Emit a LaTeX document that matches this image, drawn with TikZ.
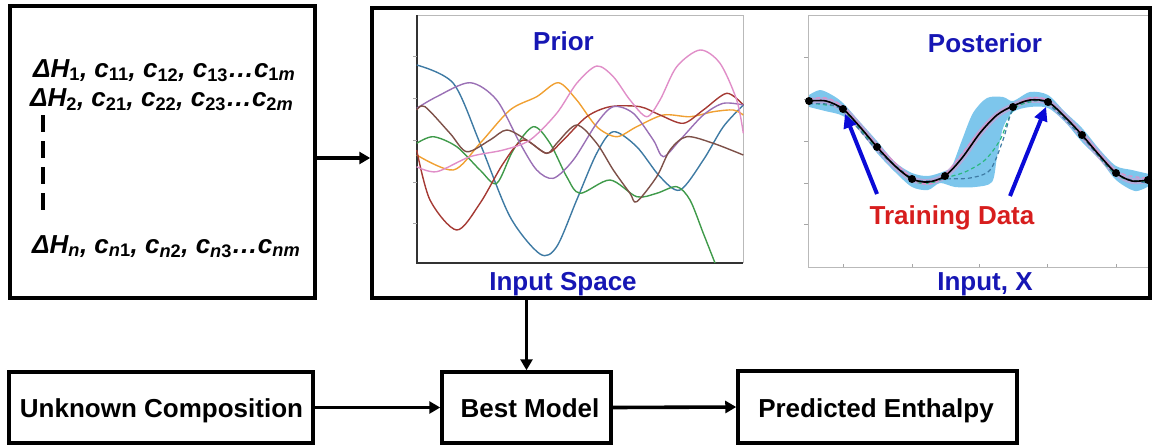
\documentclass[tikz,border=0pt]{standalone}
\usepackage{fontspec}
\setmainfont{Liberation Sans}
\usetikzlibrary{arrows.meta}
\definecolor{tblue}{RGB}{22,22,180}
\definecolor{tred}{RGB}{215,30,30}
\definecolor{abl}{RGB}{10,10,215}
\definecolor{bandblue}{RGB}{125,198,236}
\definecolor{cblue}{RGB}{62,122,163}
\definecolor{corange}{RGB}{240,160,50}
\definecolor{cgreen}{RGB}{63,154,74}
\definecolor{cred}{RGB}{165,58,52}
\definecolor{cpurple}{RGB}{154,112,181}
\definecolor{cbrown}{RGB}{125,80,72}
\definecolor{cpink}{RGB}{224,142,200}
\definecolor{lilac}{RGB}{200,160,212}
\newcommand{\lsub}[1]{\textsubscript{#1}}
\begin{document}
\begin{tikzpicture}[x=1pt,y=-1pt,
  box/.style={draw, line width=3.5pt, inner sep=0pt},
  lbl/.style={font=\fontsize{26}{30}\selectfont\bfseries, inner sep=0pt},
  eqn/.style={font=\fontsize{26}{30}\selectfont\bfseries\itshape, inner sep=0pt, anchor=base west},
  arr/.style={line width=3.6pt, -{Triangle[length=11pt,width=12pt]}},
  barr/.style={abl, line width=4pt, -{Triangle[length=14pt,width=13pt]}, shorten >=1pt},
  curve/.style={line width=1.4pt},
  dashc/.style={line width=1.2pt, dash pattern=on 4pt off 3pt},
  dot/.style={circle, fill=black, inner sep=0pt, minimum size=8pt}]
\useasboundingbox (0,0) rectangle (1153,445);

% ---------------- Prior plot ----------------
\draw[gray!55, line width=1pt] (417,15) -- (743,15) -- (743,263);
\draw[black!80, line width=1.2pt] (417,15) -- (417,263) -- (743,263);
\foreach \yy in {56,98,140,182,223} \draw[gray!70, line width=0.8pt] (413,\yy) -- (417,\yy);
\begin{scope}[curve]
\draw[cblue] plot[smooth] coordinates {(416.7,65) (453.3,83.3) (480,143.3) (510,216.7) (540,254) (556.7,246.7) (576.7,200) (596.7,153.3) (613.3,131.7) (636.7,146.7) (660,176.7) (680,190) (703.3,160) (723.3,126.7) (743.3,105)};
\draw[corange] plot[smooth] coordinates {(416.7,155) (453.3,170) (480,143.3) (510,110) (536.7,96.7) (558.3,82.7) (576.7,100) (596.7,126.7) (616.7,136.7) (636.7,126.7) (663.3,115) (690,116.7) (713.3,111.7) (733.3,110) (743.3,115)};
\draw[cgreen] plot[smooth] coordinates {(416.7,143.3) (433.3,136.7) (456.7,146.7) (480,170) (496.7,183.3) (513.3,150) (533.3,126.7) (550,143.3) (566.7,176.7) (580,193.3) (610,180) (636.7,196.7) (656.7,193.3) (676.7,186.7) (690,200) (703.3,233.3) (715,263)};
\draw[cred] plot[smooth] coordinates {(416.7,150) (430,200) (456.7,230) (480,203.3) (503.3,163.3) (523.3,140) (546.7,153.3) (563.3,140) (586.7,116.7) (610,106.7) (640,106.7) (660,115) (683.3,123.3) (703.3,110) (726.7,93.3) (743.3,105)};
\draw[cpurple] plot[smooth] coordinates {(416.7,108.3) (436.7,96.7) (470,82.7) (496.7,100) (520,143.3) (536.7,170) (553.3,178.3) (573.3,160) (596.7,123.3) (613.3,106.7) (633.3,113.3) (653.3,140) (663.3,156.7) (680,140) (703.3,115) (723.3,103.3) (743.3,105)};
\draw[cbrown] plot[smooth] coordinates {(416.7,110) (425,106.7) (450,133.3) (466.7,151.7) (490,140) (506.7,130) (526.7,140) (546.7,153.3) (556.7,143.3) (576.7,125) (596.7,143.3) (613.3,170) (630,193.3) (636.7,201.7) (656.7,176.7) (670,150) (686.7,136.7) (713.3,143.3) (743.3,155)};
\draw[cpink] plot[smooth] coordinates {(416.7,166.7) (436.7,171.7) (470,156.7) (503.3,150) (530,140) (556.7,113.3) (576.7,83.3) (596.7,66) (613.3,76.7) (630,100) (646.7,116.7) (660,100) (676.7,66.7) (700,50) (720,63.3) (736.7,100) (743.3,133.3)};
\end{scope}
\node[lbl, text=tblue, anchor=base] (prior) at (563.5,50) {Prior};
\node[lbl, text=tblue, anchor=base] (ispace) at (563,290) {Input Space};

% ---------------- Posterior plot ----------------
\draw[gray!55, line width=1pt] (808,15) rectangle (1149,267);
\foreach \yy in {57,99,141,183,224} \draw[gray!70, line width=0.8pt] (804,\yy) -- (808,\yy);
\foreach \xx in {843,912,979,1047,1116} \draw[gray!70, line width=0.8pt] (\xx,267) -- (\xx,264);
\fill[bandblue] plot[smooth] coordinates {(809,95) (820,90) (832,95) (843,103) (860,122) (877,141) (895,162) (912,173) (928,176) (945,171) (952,166) (962,140) (973,113) (987,98) (1003,97) (1013,101) (1030,92) (1048,95) (1065,112) (1082,128) (1100,150) (1116,166) (1132,170) (1149,174)}
  -- plot[smooth] coordinates {(1149,186) (1135,191) (1116,180) (1100,160) (1082,142) (1065,122) (1048,108) (1030,107) (1013,112) (1003,128) (997,157) (992,182) (975,187) (955,187) (940,183) (928,190) (912,187) (895,172) (877,153) (860,131) (843,116) (825,111) (809,107)} -- cycle;
\draw[lilac, line width=6pt, opacity=0.7] plot[smooth] coordinates {(809,101) (826,101) (843,109) (860,127) (877,147) (895,166) (912,179) (928,182) (945,176) (962,158) (980,133) (997,115) (1013,106) (1030,100) (1048,102) (1065,117) (1082,135) (1100,156) (1116,173) (1132,181) (1148,180)};
\draw[dashc, cgreen!70!cyan] plot[smooth] coordinates {(809,103) (826,105) (843,110) (877,148) (912,180) (930,183) (945,178) (965,172) (985,160) (1000,140) (1013,110) (1030,102) (1048,103) (1082,136) (1116,175) (1148,182)};
\draw[dashc, cblue] plot[smooth] coordinates {(809,104) (826,104) (843,111) (877,150) (912,178) (930,181) (945,179) (970,178) (990,170) (1003,140) (1013,109) (1030,101) (1048,104) (1082,137) (1116,174) (1148,183)};
\draw[dashc, cpink] plot[smooth] coordinates {(809,99) (826,98) (843,107) (877,145) (912,178) (930,184) (945,175) (965,150) (985,125) (1000,112) (1013,106) (1030,98) (1048,101) (1082,133) (1116,171) (1148,178)};
\draw[black, line width=1.6pt] plot[smooth] coordinates {(809,101) (826,101) (843,109) (860,127) (877,147) (895,166) (912,179) (928,182) (945,176) (962,158) (980,133) (997,115) (1013,106) (1030,100) (1048,102) (1065,117) (1082,135) (1100,156) (1116,173) (1132,181) (1148,180)};
\node[dot] (d0) at (809,101) {};
\node[dot] (d1) at (843,109) {};
\node[dot] (d2) at (877,147) {};
\node[dot] (d3) at (912,179) {};
\node[dot] (d4) at (945,176) {};
\node[dot] (d5) at (1013,107) {};
\node[dot] (d6) at (1048,102) {};
\node[dot] (d7) at (1082,135) {};
\node[dot] (d8) at (1116,173) {};
\node[dot] (d9) at (1148,180) {};
\coordinate (t1) at (877,194);
\coordinate (t2) at (1010,196);
\draw[barr] (t1) -- (d1);
\draw[barr] (t2) -- (d6);
\node[lbl, text=tblue, anchor=base] (post) at (985,52) {Posterior};
\node[lbl, text=tblue, anchor=base] (inx) at (985,290) {Input, X};
\node[lbl, text=tred, anchor=base] (train) at (952,224) {Training Data};

% ---------------- Boxes ----------------
\node[box, minimum width=305pt, minimum height=292pt] (L) at (162.5,152) {};
\node[box, minimum width=778pt, minimum height=290pt] (G) at (761,153) {};
\node[box, minimum width=304pt, minimum height=71pt] (UC) at (161,407.5) {};
\node[box, minimum width=169pt, minimum height=71pt] (BM) at (526.5,407.5) {};
\node[box, minimum width=279pt, minimum height=72pt] (PE) at (877.5,407) {};
\node[lbl, anchor=base] at (161.5,417) {Unknown Composition};
\node[lbl, anchor=base] at (530,417) {Best Model};
\node[lbl, anchor=base] at (876,417) {Predicted Enthalpy};

% ---------------- Data text ----------------
\node[eqn] (r1) at (33,77) {ΔH\lsub{\upshape 1}, c\lsub{\upshape 11}, c\lsub{\upshape 12}, c\lsub{\upshape 13}…c\lsub{{\upshape 1}m}};
\node[eqn] (r2) at (30,106) {ΔH\lsub{\upshape 2}, c\lsub{\upshape 21}, c\lsub{\upshape 22}, c\lsub{\upshape 23}…c\lsub{{\upshape 2}m}};
\node[eqn] (rn) at (32,253) {ΔH\lsub{n}, c\lsub{n{\upshape 1}}, c\lsub{n{\upshape 2}}, c\lsub{n{\upshape 3}}…c\lsub{nm}};
\draw[line width=4pt, dash pattern=on 17pt off 9pt] (43,115) -- (43,213);

% ---------------- Connectors ----------------
\coordinate (ay) at (0,158);
\draw[arr] (L.east |- ay) -- (G.west |- ay);
\draw[arr] (G.south -| BM.north) -- (BM.north);
\draw[arr] (UC.east) -- (BM.west);
\draw[arr] (BM.east) -- (PE.west);
\end{tikzpicture}
\end{document}
